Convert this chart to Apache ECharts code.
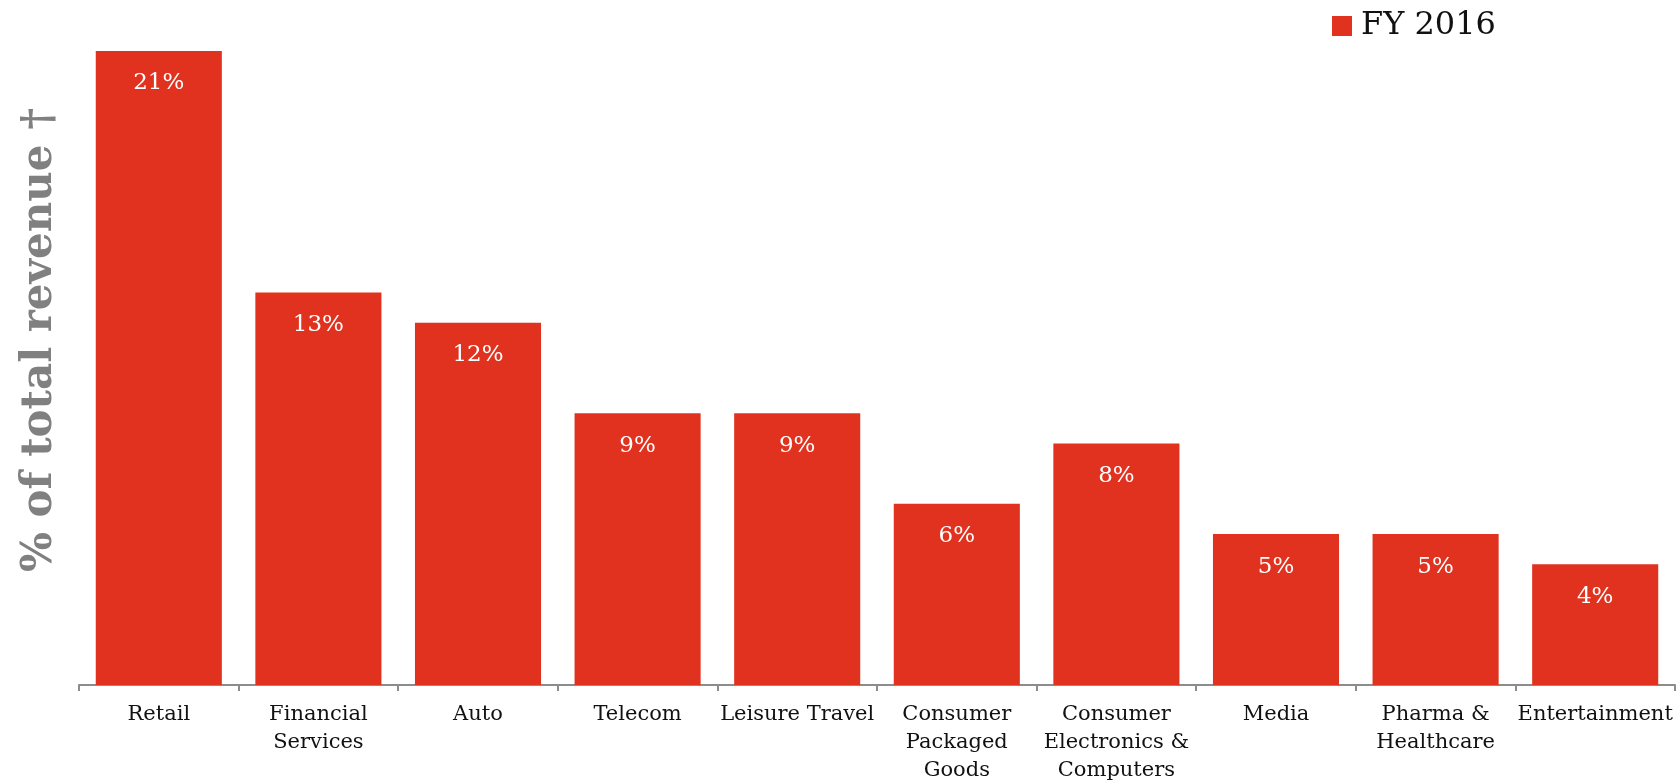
<!DOCTYPE html>
<html>
<head>
<meta charset="utf-8">
<style>
  html, body { margin: 0; padding: 0; background: #ffffff; }
  #chart { width: 1678px; height: 783px; }
</style>
<script src="https://cdn.jsdelivr.net/npm/echarts@6/dist/echarts.min.js"></script>
</head>
<body>
<div id="chart"></div>
<script>
// Share of total revenue by industry vertical, FY 2016
const categories = [
  'Retail',
  'Financial\nServices',
  'Auto',
  'Telecom',
  'Leisure Travel',
  'Consumer\nPackaged\nGoods',
  'Consumer\nElectronics &\nComputers',
  'Media',
  'Pharma &\nHealthcare',
  'Entertainment'
];
const seriesName = 'FY 2016';
const revenueShare = [21, 13, 12, 9, 9, 6, 8, 5, 5, 4];
const yAxisTitle = '% of total revenue \u2020';

const SERIF = '"DejaVu Serif", "Liberation Serif", serif';
const RED = '#e0321f';

const chart = echarts.init(document.getElementById('chart'), null, { renderer: 'canvas' });

chart.setOption({
  animation: false,
  backgroundColor: '#ffffff',
  grid: {
    left: 79, right: 3, top: 51, bottom: 98,
    containLabel: false,
    outerBoundsMode: 'none'
  },
  legend: {
    data: [seriesName],
    left: 1332,
    top: 10,
    padding: 0,
    itemWidth: 20,
    itemHeight: 20,
    icon: 'rect',
    textStyle: { fontFamily: SERIF, fontSize: 32, color: '#111111', padding: [0, 0, 0, 4] }
  },
  xAxis: {
    type: 'category',
    data: categories,
    axisLine: { lineStyle: { color: '#8c8c8c', width: 2 } },
    axisTick: { show: true, length: 6, lineStyle: { color: '#8c8c8c', width: 2 } },
    axisLabel: {
      interval: 0,
      margin: 16,
      fontFamily: SERIF,
      fontSize: 21,
      lineHeight: 28,
      color: '#111111'
    }
  },
  yAxis: {
    type: 'value',
    min: 0,
    max: 21,
    name: yAxisTitle,
    nameLocation: 'middle',
    nameRotate: 90,
    nameGap: 18,
    nameTextStyle: {
      fontFamily: SERIF,
      fontWeight: 'bold',
      fontSize: 42,
      color: '#808080',
      padding: [0, 0, 0, 56]
    },
    axisLine: { show: false },
    axisTick: { show: false },
    axisLabel: { show: false },
    splitLine: { show: false }
  },
  series: [{
    name: seriesName,
    type: 'bar',
    data: revenueShare,
    barCategoryGap: '21%',
    itemStyle: { color: RED },
    label: {
      show: true,
      position: 'insideTop',
      distance: 21,
      formatter: p => p.value + '%',
      fontFamily: SERIF,
      fontSize: 23,
      color: '#ffffff'
    }
  }]
});
</script>
</body>
</html>
